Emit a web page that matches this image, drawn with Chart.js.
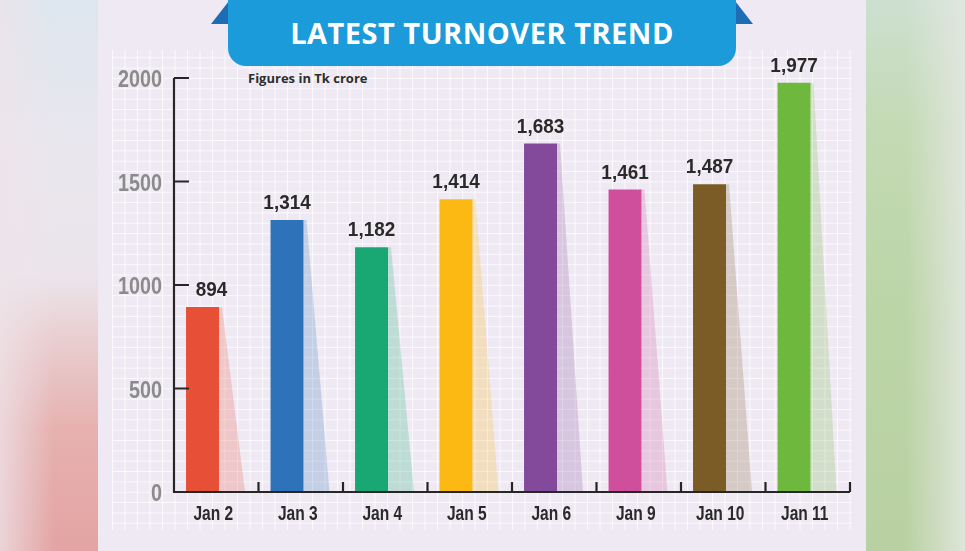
<!DOCTYPE html>
<html>
<head>
<meta charset="utf-8">
<script src="https://cdn.jsdelivr.net/npm/chart.js@4.4.1/dist/chart.umd.min.js"></script>
<style>
  html,body{margin:0;padding:0;width:965px;height:551px;overflow:hidden;background:#efe9f3;}
  #left{position:absolute;left:0;top:0;width:98px;height:551px;
    background:linear-gradient(to bottom,#dde6ef 0%,#e9e7ee 25%,#ebe5eb 50%,#e9cdcf 62%,#e6b1af 78%,#e3a4a3 100%);}
  #left2{position:absolute;left:0;top:0;width:98px;height:551px;
    background:linear-gradient(to right,rgba(238,228,234,0.75) 0%,rgba(238,228,234,0) 55%);}
  #right{position:absolute;left:866px;top:0;width:99px;height:551px;
    background:linear-gradient(to bottom,#cde0d0 0%,#c4dab5 22%,#bcd5a7 55%,#b9d1a2 100%);}
  #right2{position:absolute;left:866px;top:0;width:99px;height:551px;
    background:linear-gradient(to right,rgba(225,232,222,0) 40%,rgba(226,231,224,0.9) 100%);}
  #panel{position:absolute;left:98px;top:0;width:768px;height:551px;background:#efe9f3;}
  #grid{position:absolute;left:112px;top:50px;width:740px;height:480px;
    background-image:
      linear-gradient(to right, rgba(255,255,255,0.75) 1px, transparent 1px),
      linear-gradient(to bottom, rgba(255,255,255,0.75) 1px, transparent 1px);
    background-size:12.5px 100%, 100% 10.35px;
    background-position:0 0, 0 7.3px;}
  #banner{position:absolute;left:228px;top:-20px;width:508px;height:86px;background:#1b9bd9;
    border-radius:0 0 18px 18px;}
  #title{position:absolute;left:228px;top:14px;width:508px;text-align:center;color:#fff;
    font-family:"Open Sans",sans-serif;font-weight:700;font-size:29px;line-height:38px;letter-spacing:0.5px;}
  #note{position:absolute;left:248px;top:69px;color:#2e2e2e;font-family:"Open Sans",sans-serif;
    font-weight:700;font-size:13px;line-height:18px;}
  #folds{position:absolute;left:0;top:0;}
  canvas{position:absolute;left:0;top:0;}
</style>
</head>
<body>
<div id="left"></div><div id="left2"></div>
<div id="right"></div><div id="right2"></div>
<div id="panel"></div>
<div id="grid"></div>
<svg id="folds" width="965" height="60">
  <polygon points="211,24 229,1 229,24" fill="#1e6cb3"/>
  <polygon points="735,1 753,24 735,24" fill="#1e6cb3"/>
</svg>
<div id="banner"></div>
<div id="title">LATEST TURNOVER TREND</div>
<div id="note">Figures in Tk crore</div>
<canvas id="c" width="965" height="551"></canvas>
<script>
const categories = ["Jan 2","Jan 3","Jan 4","Jan 5","Jan 6","Jan 9","Jan 10","Jan 11"];
const turnover = [894, 1314, 1182, 1414, 1683, 1461, 1487, 1977];
const barColors = ["#e84f37","#2e73b9","#19a874","#fcb813","#83499b","#cf4f9c","#7b5c27","#6fb83e"];
const yTicks = [0, 500, 1000, 1500, 2000];

const FONT = '"Liberation Sans", Arial, sans-serif';
function hexA(h,a){const n=parseInt(h.slice(1),16);return `rgba(${n>>16},${(n>>8)&255},${n&255},${a})`;}
function condText(ctx,txt,x,y,sx){ctx.save();ctx.translate(x,y);ctx.scale(sx,1);ctx.fillText(txt,0,0);ctx.restore();}

const deco = {
  id:'deco',
  beforeDatasetsDraw(chart){
    const ctx=chart.ctx, meta=chart.getDatasetMeta(0), base=chart.scales.y.getPixelForValue(0);
    ctx.save();
    meta.data.forEach((el,i)=>{
      const r=el.x+el.width/2;
      ctx.fillStyle=hexA(barColors[i],0.22);
      ctx.beginPath();
      ctx.moveTo(r,el.y);
      ctx.lineTo(r+3,el.y);
      ctx.lineTo(r+26,base);
      ctx.lineTo(r,base);
      ctx.closePath();
      ctx.fill();
    });
    ctx.restore();
  },
  afterDatasetsDraw(chart){
    const ctx=chart.ctx, a=chart.chartArea, y=chart.scales.y, x=chart.scales.x;
    const meta=chart.getDatasetMeta(0);
    ctx.save();
    ctx.strokeStyle='#262626'; ctx.lineWidth=2.2; ctx.lineCap='butt';
    const top=y.getPixelForValue(yTicks[yTicks.length-1]);
    ctx.beginPath();
    ctx.moveTo(a.left,top); ctx.lineTo(a.left,a.bottom); ctx.lineTo(a.right,a.bottom);
    ctx.stroke();
    ctx.beginPath();
    yTicks.slice(1).forEach(v=>{const p=y.getPixelForValue(v); ctx.moveTo(a.left,p); ctx.lineTo(a.left+15,p);});
    for(let i=0;i<categories.length;i++){
      const px = i<categories.length-1 ? (x.getPixelForValue(i)+x.getPixelForValue(i+1))/2 : a.right;
      ctx.moveTo(px,a.bottom); ctx.lineTo(px,a.bottom-10);
    }
    ctx.stroke();
    // value labels
    ctx.fillStyle='#2a2a2a';
    ctx.font='bold 21px '+FONT;
    ctx.textAlign='center'; ctx.textBaseline='alphabetic';
    meta.data.forEach((el,i)=>{
      const dx = i===0 ? 9 : 0;
      condText(ctx,turnover[i].toLocaleString('en-US'), el.x+dx, el.y-11, 0.9);
    });
    // x tick labels
    ctx.font='bold 21px '+FONT;
    x.ticks.forEach((t,i)=>{
      condText(ctx,categories[i], x.getPixelForTick(i)-3, a.bottom+28, 0.74);
    });
    // y tick labels
    ctx.fillStyle='#8b8b8b';
    ctx.font='bold 23px '+FONT;
    ctx.textAlign='right';
    y.ticks.forEach((t,i)=>{
      condText(ctx,String(t.value), a.left-12, y.getPixelForTick(i)+9, 0.86);
    });
    ctx.restore();
  }
};

new Chart(document.getElementById('c'),{
  type:'bar',
  data:{
    labels:categories,
    datasets:[
      {label:'Turnover',data:turnover,backgroundColor:barColors,borderWidth:0,
       categoryPercentage:0.65,barPercentage:1.2},
      {label:'shadow',data:turnover,backgroundColor:'rgba(0,0,0,0)',borderWidth:0,
       categoryPercentage:0.65,barPercentage:1.2}
    ]
  },
  options:{
    responsive:false,animation:false,
    layout:{padding:{left:0,top:78,right:115,bottom:19}},
    plugins:{legend:{display:false},tooltip:{enabled:false},title:{display:false}},
    scales:{
      x:{
        grid:{display:false,drawTicks:false},border:{display:false},
        ticks:{display:false},
        afterFit(s){s.height=40;}
      },
      y:{
        min:0,max:2000,
        grid:{display:false,drawTicks:false},border:{display:false},
        ticks:{display:false,stepSize:500},
        afterFit(s){s.width=174;}
      }
    }
  },
  plugins:[deco]
});
</script>
</body>
</html>
